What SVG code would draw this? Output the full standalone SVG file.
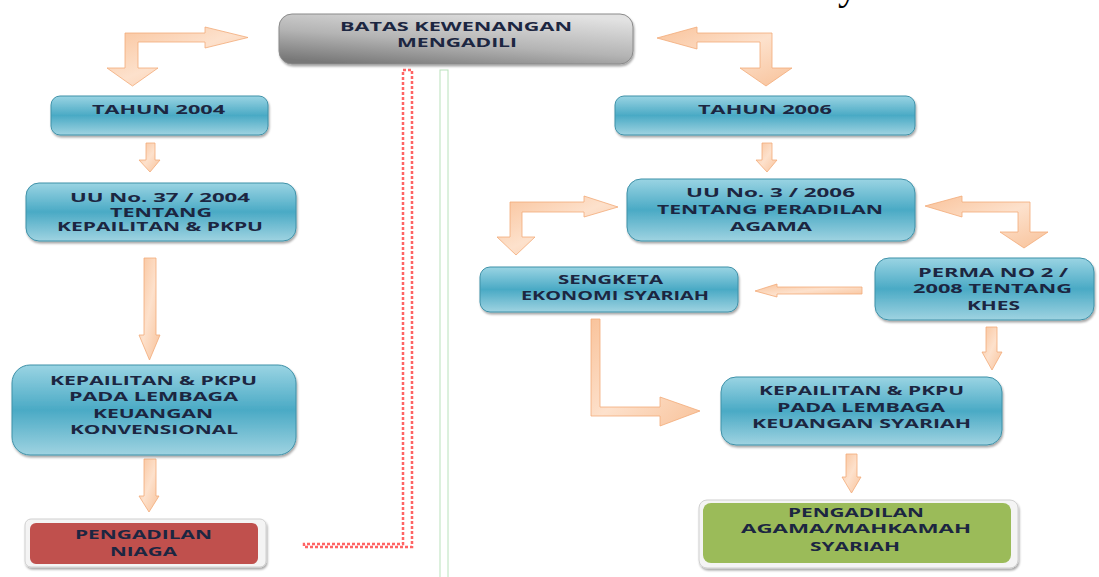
<svg xmlns="http://www.w3.org/2000/svg" width="1099" height="577" viewBox="0 0 1099 577">
<defs>
<linearGradient id="blue" x1="0" y1="0" x2="0" y2="1">
<stop offset="0" stop-color="#9ad4e3"/>
<stop offset="0.5" stop-color="#4aaac5"/>
<stop offset="1" stop-color="#9fd3e1"/>
</linearGradient>
<linearGradient id="gray" x1="0.75" y1="0" x2="0.2" y2="1">
<stop offset="0" stop-color="#e2e2e2"/>
<stop offset="0.55" stop-color="#b4b4b4"/>
<stop offset="1" stop-color="#787878"/>
</linearGradient>
<linearGradient id="peach" x1="0" y1="0" x2="1" y2="1">
<stop offset="0" stop-color="#f9c39b"/>
<stop offset="0.5" stop-color="#fde1cc"/>
<stop offset="1" stop-color="#f8c29a"/>
</linearGradient>
<filter id="sh" x="-10%" y="-10%" width="120%" height="130%">
<feDropShadow dx="1" dy="2" stdDeviation="1.2" flood-color="#000" flood-opacity="0.35"/>
</filter>
</defs>
<style>
.bx{fill:url(#blue);stroke:#3f91a8;stroke-width:1;filter:url(#sh)}
.ar{fill:url(#peach);stroke:#f2ab78;stroke-width:0.8}
.t{font-family:"Open Sans","DejaVu Sans",sans-serif;font-weight:700;font-size:12.5px;fill:#1c2641}
.s{font-size:11.5px}
.frame{fill:#f4f4f4;stroke:#d0d0d0;stroke-width:1;filter:url(#sh)}
</style>

<text x="838" y="-1" style="font-family:'Liberation Serif',serif;font-size:40px;fill:#000">y</text>

<g id="connectors">
<polygon class="ar" points="107,68 125,68 125,33 205,33 205,27 248,37.5 205,48 205,42 138,42 138,68 158,68 132.5,86"/>
<polygon class="ar" points="657,38 697,27 697,33 772,33 772,68 792,68 766,86 740,68 760,68 760,42 697,42 697,49"/>
<polygon class="ar" points="146,143 155,143 155,160 160,160 150,172 139,160 146,160"/>
<polygon class="ar" points="144,258 156,258 156,335 160,335 149.5,360 139,335 144,335"/>
<polygon class="ar" points="144,459 156,459 156,496 159,496 149,512 139,496 144,496"/>
<polygon class="ar" points="762,143 772,143 772,160 777,160 767,172 756,160 762,160"/>
<polygon class="ar" points="497,237 510,237 510,202 584,202 584,196 618,207 584,217 584,212 522,212 522,237 535,237 516,255"/>
<polygon class="ar" points="925,206 962,196 962,202 1030,202 1030,232 1048,232 1024,248 1000,232 1018,232 1018,212 962,212 962,217"/>
<polygon class="ar" points="862,287 777,287 777,284 755,291 777,297 777,294 862,294"/>
<polygon class="ar" points="986,327 997,327 997,352 1002,352 992,370 982,352 986,352"/>
<polygon class="ar" points="591,319 600,319 600,407 660,407 660,397 700,411 660,426 660,416 591,416"/>
<polygon class="ar" points="846,454 857,454 857,477 861,477 851.5,493 842,477 846,477"/>
<path d="M403,70 H412 V547 H304 V544 H403 Z" fill="none" stroke="#ff6464" stroke-width="2.5" stroke-dasharray="3 2"/>
<rect x="440" y="70" width="8" height="520" fill="none" stroke="#b9e2bc" stroke-width="1"/>
</g>

<g id="batas">
<rect x="279" y="14" width="354" height="50" rx="13" fill="url(#gray)" stroke="#8a8a8a" stroke-width="1" filter="url(#sh)"/>
<text class="t" x="340" y="31" textLength="232" lengthAdjust="spacingAndGlyphs">BATAS KEWENANGAN</text>
<text class="t" x="397" y="47" textLength="120" lengthAdjust="spacingAndGlyphs">MENGADILI</text>
</g>

<g id="tahun2004">
<rect class="bx" x="51" y="96" width="217" height="39" rx="9"/>
<text class="t" x="92" y="114" textLength="133" lengthAdjust="spacingAndGlyphs">TAHUN 2004</text>
</g>

<g id="uu37">
<rect class="bx" x="26" y="183" width="270" height="58" rx="13"/>
<text class="t s" x="70" y="202" textLength="180" lengthAdjust="spacingAndGlyphs">UU No. 37 / 2004</text>
<text class="t s" x="110" y="217" textLength="102" lengthAdjust="spacingAndGlyphs">TENTANG</text>
<text class="t s" x="57" y="231" textLength="206" lengthAdjust="spacingAndGlyphs">KEPAILITAN &amp; PKPU</text>
</g>

<g id="kepailitan-konvensional">
<rect class="bx" x="12" y="365" width="284" height="90" rx="18"/>
<text class="t" x="50" y="385" textLength="207" lengthAdjust="spacingAndGlyphs">KEPAILITAN &amp; PKPU</text>
<text class="t" x="69" y="401" textLength="169" lengthAdjust="spacingAndGlyphs">PADA LEMBAGA</text>
<text class="t" x="93" y="418" textLength="120" lengthAdjust="spacingAndGlyphs">KEUANGAN</text>
<text class="t" x="70" y="434" textLength="168" lengthAdjust="spacingAndGlyphs">KONVENSIONAL</text>
</g>

<g id="pengadilan-niaga">
<rect class="frame" x="25" y="519" width="241" height="48" rx="6"/>
<rect x="30" y="523" width="228" height="41" rx="6" fill="#c0504d"/>
<text class="t" x="75" y="539" textLength="137" lengthAdjust="spacingAndGlyphs">PENGADILAN</text>
<text class="t" x="110" y="556" textLength="67" lengthAdjust="spacingAndGlyphs">NIAGA</text>
</g>

<g id="tahun2006">
<rect class="bx" x="615" y="96" width="300" height="39" rx="9"/>
<text class="t" x="698" y="114" textLength="134" lengthAdjust="spacingAndGlyphs">TAHUN 2006</text>
</g>

<g id="uu3">
<rect class="bx" x="627" y="179" width="288" height="62" rx="14"/>
<text class="t" x="686" y="197" textLength="169" lengthAdjust="spacingAndGlyphs">UU No. 3 / 2006</text>
<text class="t" x="657" y="214" textLength="226" lengthAdjust="spacingAndGlyphs">TENTANG PERADILAN</text>
<text class="t" x="730" y="231" textLength="82" lengthAdjust="spacingAndGlyphs">AGAMA</text>
</g>

<g id="sengketa">
<rect class="bx" x="480" y="267" width="258" height="45" rx="10"/>
<text class="t" x="558" y="284" textLength="105" lengthAdjust="spacingAndGlyphs">SENGKETA</text>
<text class="t" x="521" y="300" textLength="188" lengthAdjust="spacingAndGlyphs">EKONOMI SYARIAH</text>
</g>

<g id="perma">
<rect class="bx" x="875" y="258" width="219" height="62" rx="14"/>
<text class="t" x="918" y="277" textLength="150" lengthAdjust="spacingAndGlyphs">PERMA NO 2 /</text>
<text class="t" x="913" y="293" textLength="159" lengthAdjust="spacingAndGlyphs">2008 TENTANG</text>
<text class="t" x="967" y="310" textLength="53" lengthAdjust="spacingAndGlyphs">KHES</text>
</g>

<g id="kepailitan-syariah">
<rect class="bx" x="721" y="377" width="281" height="68" rx="15"/>
<text class="t" x="759" y="395" textLength="205" lengthAdjust="spacingAndGlyphs">KEPAILITAN &amp; PKPU</text>
<text class="t" x="777" y="412" textLength="168" lengthAdjust="spacingAndGlyphs">PADA LEMBAGA</text>
<text class="t" x="752" y="428" textLength="219" lengthAdjust="spacingAndGlyphs">KEUANGAN SYARIAH</text>
</g>

<g id="pengadilan-agama">
<rect class="frame" x="699" y="500" width="319" height="68" rx="8"/>
<rect x="703" y="503" width="308" height="60" rx="8" fill="#9bbb59"/>
<text class="t" x="788" y="517" textLength="136" lengthAdjust="spacingAndGlyphs">PENGADILAN</text>
<text class="t" x="741" y="533" textLength="230" lengthAdjust="spacingAndGlyphs">AGAMA/MAHKAMAH</text>
<text class="t" x="810" y="551" textLength="90" lengthAdjust="spacingAndGlyphs">SYARIAH</text>
</g>
</svg>
